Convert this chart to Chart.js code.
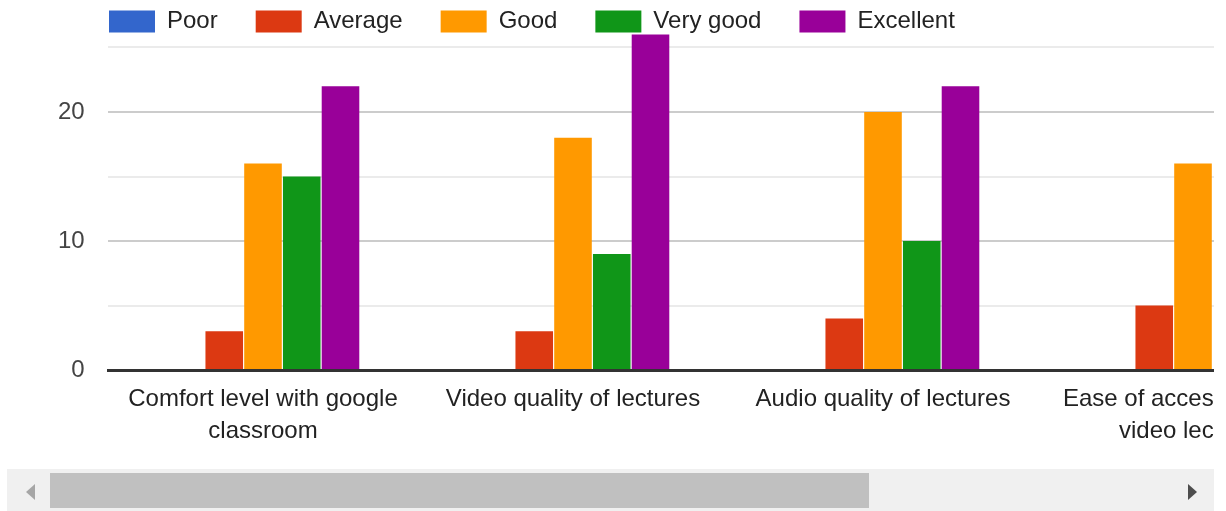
<!DOCTYPE html>
<html lang="en">
  <head>
    <meta charset="UTF-8" />
    <title>Feedback chart</title>
    <script src="https://cdn.jsdelivr.net/npm/chart.js"></script>
    <style>
      body {
        margin: 0;
        background: #fff;
        font-family: "Liberation Sans", Arial, sans-serif;
      }

      .chart-wrap {
        position: absolute;
        left: 0;
        top: 0;
        width: 1214px;
        height: 469px;
        overflow: hidden;
      }

      .track {
        position: absolute;
        left: 7px;
        top: 469px;
        width: 1207px;
        height: 42px;
        background: #f0f0f0;
      }

      .thumb {
        position: absolute;
        left: 43px;
        top: 4px;
        width: 819px;
        height: 35px;
        background: #c0c0c0;
      }

      .arrow-left,
      .arrow-right {
        position: absolute;
        top: 15px;
        width: 0;
        height: 0;
        border-top: 8px solid transparent;
        border-bottom: 8px solid transparent;
      }

      .arrow-left {
        left: 19px;
        border-right: 9px solid #a6a6a6;
      }

      .arrow-right {
        left: 1181px;
        border-left: 9px solid #4d4d4d;
      }
    </style>
  </head>
  <body>
    <div class="chart-wrap">
      <canvas id="ratingChart" width="1348" height="469"></canvas>
    </div>
    <div class="track">
      <div class="arrow-left"></div>
      <div class="thumb"></div>
      <div class="arrow-right"></div>
    </div>

    <script>
      const categories = [
        ["Comfort level with google", "classroom"],
        "Video quality of lectures",
        "Audio quality of lectures",
        ["Ease of access to online", "video lectures"],
      ];

      // last group is cut off by the scroll window, unseen bars left null
      const poor = [0, 0, 0, 0];
      const average = [3, 3, 4, 5];
      const good = [16, 18, 20, 16];
      const veryGood = [15, 9, 10, null];
      const excellent = [22, 26, 22, null];

      const yTicks = [0, 10, 20];

      const font = { family: "'Liberation Sans', Arial, sans-serif", size: 24 };

      function series(label, data, color) {
        return {
          label: label,
          data: data,
          backgroundColor: color,
          borderWidth: 0,
          categoryPercentage: 0.625,
          barPercentage: 0.97,
          clip: false,
        };
      }

      const ctx = document.getElementById("ratingChart").getContext("2d");

      const ratingChart = new Chart(ctx, {
        type: "bar",
        data: {
          labels: categories,
          datasets: [
            series("Poor", poor, "#3366cc"),
            series("Average", average, "#dc3912"),
            series("Good", good, "#ff9900"),
            series("Very good", veryGood, "#109618"),
            series("Excellent", excellent, "#990099"),
          ],
        },
        options: {
          responsive: false,
          animation: false,
          layout: {
            padding: { top: -28.5, left: 71, right: 0, bottom: 17 },
          },
          plugins: {
            legend: {
              position: "top",
              align: "start",
              labels: {
                boxWidth: 46,
                boxHeight: 22,
                padding: 38,
                color: "#222",
                font: font,
              },
            },
            tooltip: { enabled: false },
          },
          scales: {
            x: {
              grid: { display: false },
              border: { color: "#333", width: 3 },
              ticks: {
                color: "#222",
                font: { ...font, lineHeight: 1.333 },
                padding: 5,
                autoSkip: false,
                maxRotation: 0,
              },
            },
            y: {
              min: 0,
              max: 25.31,
              afterFit: (scale) => {
                scale.width = 37;
              },
              border: { display: false },
              grid: {
                drawTicks: false,
                lineWidth: 2,
                color: (c) => {
                  const v = c.tick.value;
                  if (v === 0) return "rgba(0,0,0,0)";
                  return v % 10 === 0 ? "#cccccc" : "#ebebeb";
                },
              },
              ticks: {
                stepSize: 5,
                includeBounds: false,
                // mirrored so the labels are not clipped to the narrow axis box
                mirror: true,
                crossAlign: "far",
                padding: -50,
                color: "#444",
                font: font,
                callback: (v) => (yTicks.includes(v) ? v : ""),
              },
            },
          },
        },
      });
    </script>
  </body>
</html>
